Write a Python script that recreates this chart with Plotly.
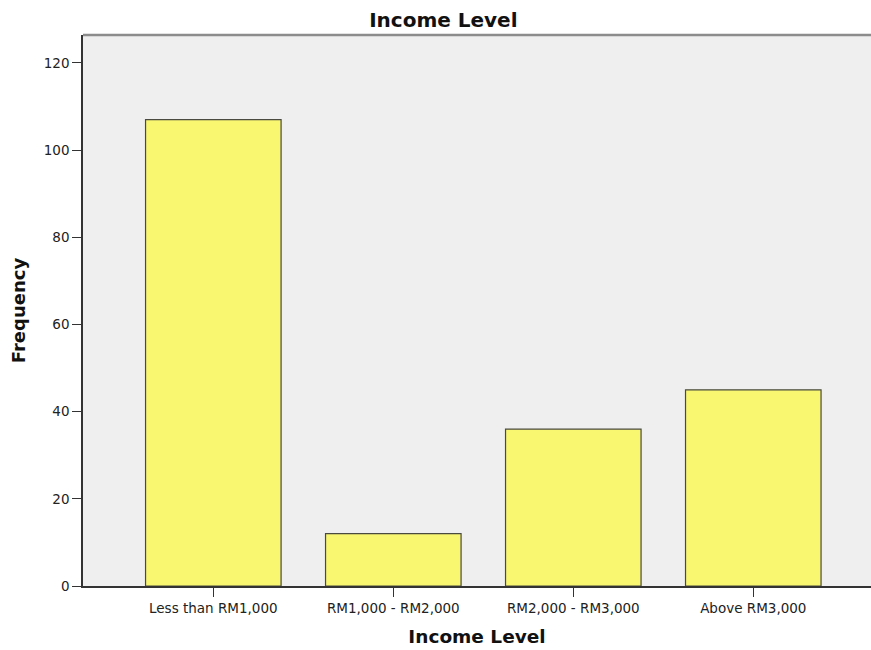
import plotly.graph_objects as go

categories = ["Less than RM1,000", "RM1,000 - RM2,000", "RM2,000 - RM3,000", "Above RM3,000"]
frequency = [107, 12, 36, 45]
y_ticks = [0, 20, 40, 60, 80, 100, 120]

font_family = "DejaVu Sans, Verdana, sans-serif"

fig = go.Figure(
    go.Bar(
        x=list(range(len(categories))),
        y=frequency,
        width=0.753,
        marker=dict(color="#F9F670", line=dict(color="#4A4A40", width=1.2)),
    )
)

fig.update_layout(
    width=871,
    height=650,
    margin=dict(l=83, r=0, t=35, b=64),
    paper_bgcolor="white",
    plot_bgcolor="#EFEFEF",
    showlegend=False,
    font=dict(family=font_family, color="#222222"),
    title=dict(
        text="<b>Income Level</b>",
        x=0.509, xref="container", xanchor="center",
        y=0.969, yref="container", yanchor="middle",
        font=dict(size=20, color="#111111", family=font_family),
    ),
    xaxis=dict(
        range=[-0.724, 3.654],
        tickmode="array",
        tickvals=list(range(len(categories))),
        ticktext=categories,
        ticks="outside", ticklen=9, tickwidth=1.3, tickcolor="#333333",
        showline=True, linecolor="#333333", linewidth=1.5,
        showgrid=False, zeroline=False,
        tickfont=dict(size=13.5, color="#222222"),
        title=dict(text="<b>Income Level</b>", font=dict(size=18.5, color="#111111"), standoff=15),
    ),
    yaxis=dict(
        range=[0, 126.4],
        tickmode="array",
        tickvals=y_ticks,
        ticks="outside", ticklen=9, tickwidth=1.3, tickcolor="#333333",
        showline=True, linecolor="#333333", linewidth=1.5,
        showgrid=False, zeroline=False,
        tickfont=dict(size=13.5, color="#222222"),
        title=dict(text="<b>Frequency</b>", font=dict(size=18, color="#111111"), standoff=13),
    ),
)

# grey frame line along the top of the plotting area
fig.add_shape(type="line", xref="paper", yref="paper", x0=0, x1=1, y0=1, y1=1,
              line=dict(color="#8C8C8C", width=2.5))

fig.write_html("out.html")
